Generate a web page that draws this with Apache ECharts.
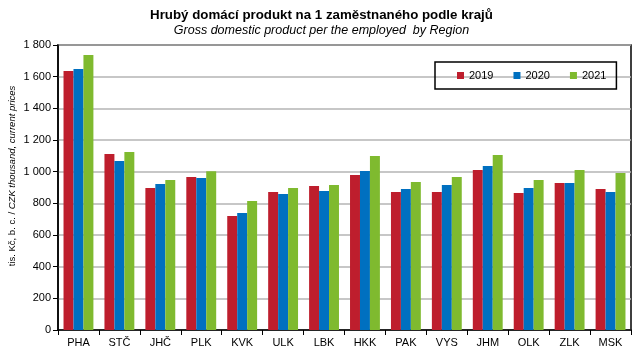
<!DOCTYPE html>
<html><head><meta charset="utf-8">
<script src="https://cdn.jsdelivr.net/npm/echarts@6/dist/echarts.min.js"></script>
<style>html,body{margin:0;padding:0;background:#fff}#c{width:643px;height:358px}</style>
</head><body><div id="c"></div>
<script>
const categories = ['PHA','STČ','JHČ','PLK','KVK','ULK','LBK','HKK','PAK','VYS','JHM','OLK','ZLK','MSK'];
const seriesNames = ['2019','2020','2021'];
const v2019 = [1636,1112,897,966,720,872,909,979,872,872,1011,865,928,891];
const v2020 = [1648,1067,922,960,739,859,878,1004,891,916,1036,897,928,872];
const v2021 = [1737,1124,947,1002,815,897,916,1099,935,966,1105,947,1011,992];
const colors = ['#BE1E2D','#0070C0','#7FBA2F'];
const values = [v2019, v2020, v2021];

const chart = echarts.init(document.getElementById('c'), null, {renderer:'canvas'});
const F = 'Liberation Sans, Arial, sans-serif';
chart.setOption({
  animation:false,
  textStyle:{fontFamily:F},
  title:[
    {text:'Hrubý domácí produkt na 1 zaměstnaného podle krajů', left:'center', top:4,
     textStyle:{fontSize:13.3, fontWeight:'bold', color:'#000', fontFamily:F}},
    {text:'Gross domestic product per the employed  by Region', left:'center', top:19,
     textStyle:{fontSize:12.5, fontWeight:'normal', fontStyle:'italic', color:'#000', fontFamily:F}}
  ],
  legend:{
    left:435, top:62, itemWidth:7, itemHeight:7, itemGap:20,
    icon:'rect', borderColor:'#000', borderWidth:1.5, padding:[8,10,8,22],
    textStyle:{fontSize:11, color:'#000', fontFamily:F}, data:seriesNames
  },
  grid:{left:58, right:12, top:45, bottom:28, show:true, borderColor:'#000', borderWidth:1.5, containLabel:false},
  xAxis:{
    type:'category', data:categories,
    axisLine:{lineStyle:{color:'#000', width:1.5}},
    axisTick:{show:true, alignWithLabel:false, length:5, lineStyle:{color:'#000'}},
    axisLabel:{color:'#000', fontSize:11, margin:7, fontFamily:F}
  },
  yAxis:{
    type:'value', min:0, max:1800, interval:200,
    axisLine:{show:true, lineStyle:{color:'#000', width:1.5}},
    axisTick:{show:true, length:5, lineStyle:{color:'#000'}},
    axisLabel:{color:'#000', fontSize:11, margin:7, fontFamily:F,
      formatter:v=>String(v).replace(/\B(?=(\d{3})+(?!\d))/g,' ')},
    splitLine:{lineStyle:{color:'#b4b4b4', width:1.5}}
  },
  graphic:[{
    type:'text', x:12, y:176, rotation:Math.PI/2,
    style:{
      text:'{a|tis. Kč, b. c. / }{b|CZK thousand, current prices}',
      align:'center', verticalAlign:'middle',
      rich:{
        a:{fontSize:9.5, fill:'#000', fontFamily:F},
        b:{fontSize:9.5, fontStyle:'italic', fill:'#000', fontFamily:F}
      }
    }
  }],
  series: seriesNames.map((n,i)=>({
    name:n, type:'bar', data:values[i], itemStyle:{color:colors[i]},
    barGap:'0%', barCategoryGap:'27%'
  }))
});
</script></body></html>
